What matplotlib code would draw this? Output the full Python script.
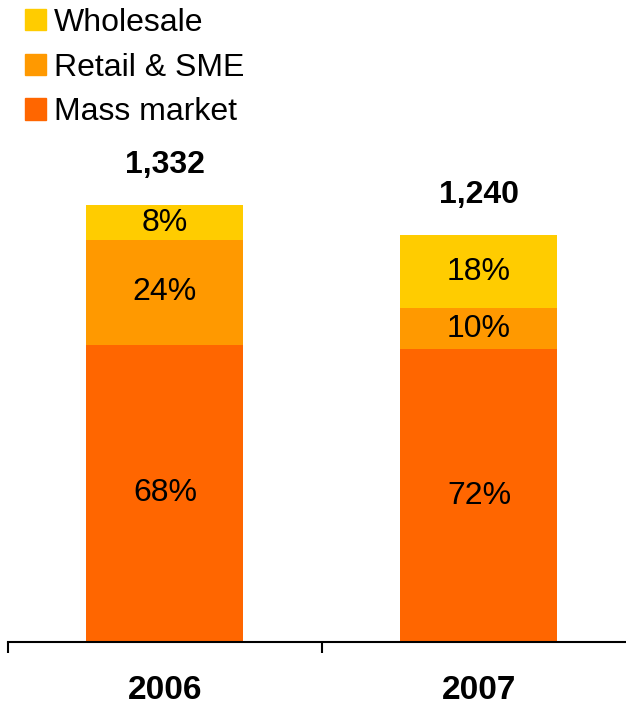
import matplotlib.pyplot as plt
from matplotlib.patches import Patch

years = ["2006", "2007"]
totals = [1332, 1240]
mass_pct = [68, 72]
retail_pct = [24, 10]
wholesale_pct = [8, 18]

segments = [
    ("Mass market", mass_pct, "#FF6600"),
    ("Retail & SME", retail_pct, "#FF9900"),
    ("Wholesale", wholesale_pct, "#FFCC00"),
]

FONT = ["Liberation Sans", "DejaVu Sans"]


def main():
    fig = plt.figure(figsize=(6.26, 7.05), dpi=100)
    ax = fig.add_axes([8 / 626, 63 / 705, 628 / 626, 492 / 705])

    x = range(len(years))
    bottoms = [0.0] * len(years)
    handles = []
    for name, pcts, color in segments:
        vals = [t * p / 100 for t, p in zip(totals, pcts)]
        ax.bar(x, vals, width=0.5, bottom=bottoms, color=color, zorder=1)
        for i, (v, p) in enumerate(zip(vals, pcts)):
            ax.text(i, bottoms[i] + v / 2, f"{p}%", ha="center", va="center",
                    fontsize=23, family=FONT)
        bottoms = [b + v for b, v in zip(bottoms, vals)]
        handles.append(Patch(color=color, label=name))

    # totals above each stack
    for i, t in enumerate(totals):
        ax.annotate(f"{t:,}", (i, t), xytext=(0, 29), textcoords="offset points",
                    ha="center", va="center", fontsize=23, fontweight="bold",
                    family=FONT)

    ax.set_xlim(-0.5, 1.5)
    ax.set_ylim(0, 1500)
    ax.set_xticks(list(x))
    ax.set_xticklabels(years, fontsize=24, fontweight="bold", family=FONT)
    ax.set_xticks([-0.5, 0.5, 1.5], minor=True)
    ax.tick_params(axis="x", which="major", length=0, pad=24)
    ax.tick_params(axis="x", which="minor", length=8, width=1.5, direction="out")
    ax.set_yticks([])
    for s in ["top", "right", "left"]:
        ax.spines[s].set_visible(False)
    ax.spines["bottom"].set_linewidth(1.5)
    ax.spines["bottom"].set_zorder(3)

    fig.legend(handles=handles[::-1], loc="upper left", bbox_to_anchor=(0.020, 1.007),
               frameon=False, handlelength=0.65, handleheight=0.65,
               handletextpad=0.25, labelspacing=0.46, borderaxespad=0,
               prop={"family": FONT, "size": 23})

    fig.savefig("out.png", dpi=100)


if __name__ == "__main__":
    main()
